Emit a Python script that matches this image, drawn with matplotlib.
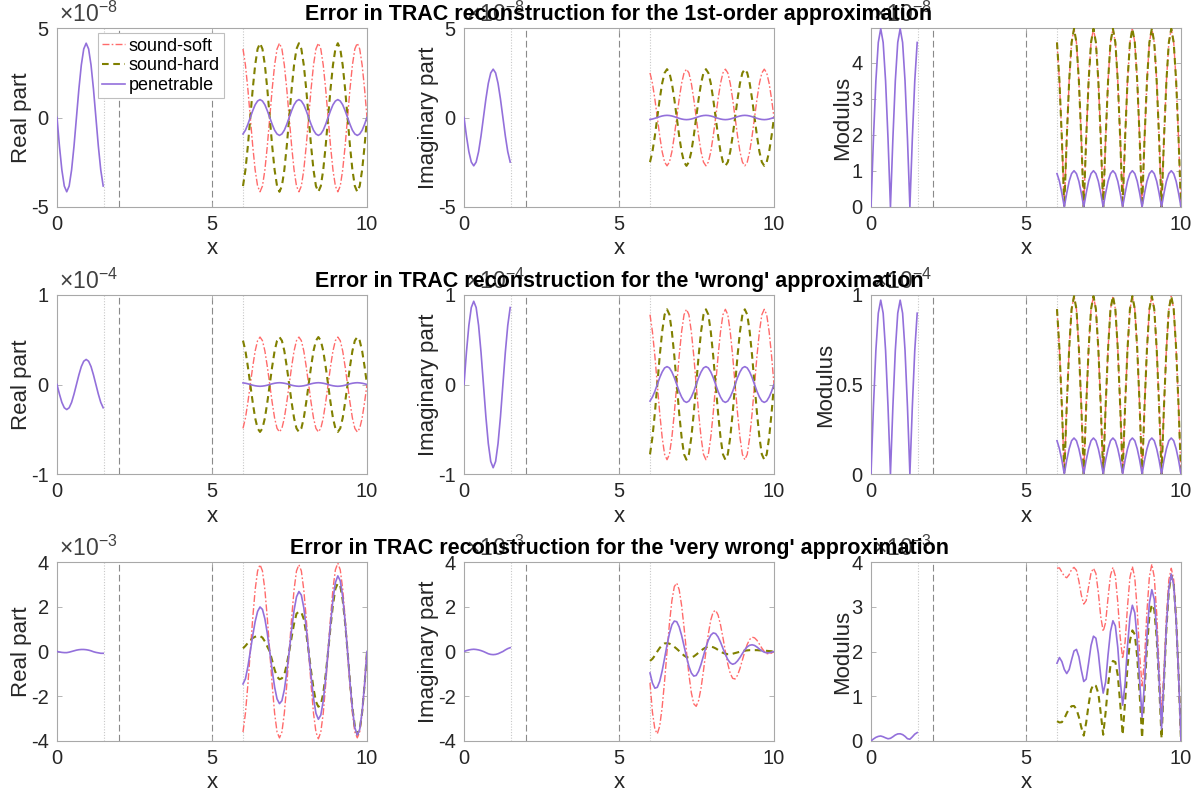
import numpy as np
import matplotlib
matplotlib.use('Agg')
import matplotlib.pyplot as plt
from matplotlib.ticker import FuncFormatter

plt.rcParams['font.family'] = ['Liberation Sans', 'DejaVu Sans']
plt.rcParams['axes.unicode_minus'] = False
plt.rcParams['mathtext.fontset'] = 'custom'
plt.rcParams['mathtext.rm'] = 'Liberation Sans'
plt.rcParams['mathtext.it'] = 'Liberation Sans:italic'

# sample positions: inner piece (0..1.5) and outer piece (6..10)
x_in = np.linspace(0.0, 1.49, 20)
x_out = np.linspace(6.0, 10.0, 52)

titles = ["Error in TRAC reconstruction for the 1st-order approximation",
          "Error in TRAC reconstruction for the 'wrong' approximation",
          "Error in TRAC reconstruction for the 'very wrong' approximation"]
exponents = [-8, -4, -3]
labels = ["sound-soft", "sound-hard", "penetrable"]
ylabels = ["Real part", "Imaginary part", "Modulus"]

# ---- row 1 : 1st-order (x 1e-8) ----
r1_re_pen_in = [0, -1.59, -2.93, -3.83, -4.15, -3.83, -2.93, -1.59, 0, 1.59, 2.93, 3.83, 4.15, 3.83, 2.93, 1.59, 0, -1.59, -2.93, -3.83]
r1_im_pen_in = [0, -1.03, -1.91, -2.49, -2.7, -2.49, -1.91, -1.03, 0, 1.03, 1.91, 2.49, 2.7, 2.49, 1.91, 1.03, 0, -1.03, -1.91, -2.49]
r1_re_soft = [3.83, 2.93, 1.59, 0, -1.59, -2.93, -3.83, -4.15, -3.83, -2.93, -1.59, 0, 1.59, 2.93, 3.83, 4.15, 3.83, 2.93, 1.59, 0,
              -1.59, -2.93, -3.83, -4.15, -3.83, -2.93, -1.59, 0, 1.59, 2.93, 3.83, 4.15, 3.83, 2.93, 1.59, 0,
              -1.59, -2.93, -3.83, -4.15, -3.83, -2.93, -1.59, 0, 1.59, 2.93, 3.83, 4.15, 3.83, 2.93, 1.59, 0]
r1_re_hard = [-3.83, -2.93, -1.59, 0, 1.59, 2.93, 3.83, 4.15, 3.83, 2.93, 1.59, 0, -1.59, -2.93, -3.83, -4.15, -3.83, -2.93, -1.59, 0,
              1.59, 2.93, 3.83, 4.15, 3.83, 2.93, 1.59, 0, -1.59, -2.93, -3.83, -4.15, -3.83, -2.93, -1.59, 0,
              1.59, 2.93, 3.83, 4.15, 3.83, 2.93, 1.59, 0, -1.59, -2.93, -3.83, -4.15, -3.83, -2.93, -1.59, 0]
r1_re_pen = [-0.92, -0.71, -0.38, 0, 0.38, 0.71, 0.92, 1.0, 0.92, 0.71, 0.38, 0, -0.38, -0.71, -0.92, -1.0, -0.92, -0.71, -0.38, 0,
             0.38, 0.71, 0.92, 1.0, 0.92, 0.71, 0.38, 0, -0.38, -0.71, -0.92, -1.0, -0.92, -0.71, -0.38, 0,
             0.38, 0.71, 0.92, 1.0, 0.92, 0.71, 0.38, 0, -0.38, -0.71, -0.92, -1.0, -0.92, -0.71, -0.38, 0]
r1_im_soft = [2.49, 1.91, 1.03, 0, -1.03, -1.91, -2.49, -2.7, -2.49, -1.91, -1.03, 0, 1.03, 1.91, 2.49, 2.7, 2.49, 1.91, 1.03, 0,
              -1.03, -1.91, -2.49, -2.7, -2.49, -1.91, -1.03, 0, 1.03, 1.91, 2.49, 2.7, 2.49, 1.91, 1.03, 0,
              -1.03, -1.91, -2.49, -2.7, -2.49, -1.91, -1.03, 0, 1.03, 1.91, 2.49, 2.7, 2.49, 1.91, 1.03, 0]
r1_im_hard = [-2.49, -1.91, -1.03, 0, 1.03, 1.91, 2.49, 2.7, 2.49, 1.91, 1.03, 0, -1.03, -1.91, -2.49, -2.7, -2.49, -1.91, -1.03, 0,
              1.03, 1.91, 2.49, 2.7, 2.49, 1.91, 1.03, 0, -1.03, -1.91, -2.49, -2.7, -2.49, -1.91, -1.03, 0,
              1.03, 1.91, 2.49, 2.7, 2.49, 1.91, 1.03, 0, -1.03, -1.91, -2.49, -2.7, -2.49, -1.91, -1.03, 0]
r1_im_pen = [-0.11, -0.085, -0.046, 0, 0.046, 0.085, 0.11, 0.12, 0.11, 0.085, 0.046, 0, -0.046, -0.085, -0.11, -0.12, -0.11, -0.085, -0.046, 0,
             0.046, 0.085, 0.11, 0.12, 0.11, 0.085, 0.046, 0, -0.046, -0.085, -0.11, -0.12, -0.11, -0.085, -0.046, 0,
             0.046, 0.085, 0.11, 0.12, 0.11, 0.085, 0.046, 0, -0.046, -0.085, -0.11, -0.12, -0.11, -0.085, -0.046, 0]

# ---- row 2 : 'wrong' (x 1e-4) ----
r2_re_pen_in = [0, -0.107, -0.2, -0.26, -0.28, -0.26, -0.2, -0.107, 0, 0.107, 0.2, 0.26, 0.28, 0.26, 0.2, 0.107, 0, -0.107, -0.2, -0.26]
r2_im_pen_in = [0, 0.36, 0.66, 0.86, 0.93, 0.86, 0.66, 0.36, 0, -0.36, -0.66, -0.86, -0.93, -0.86, -0.66, -0.36, 0, 0.36, 0.66, 0.86]
r2_re_soft = [-0.49, -0.375, -0.2, 0, 0.2, 0.375, 0.49, 0.53, 0.49, 0.375, 0.2, 0, -0.2, -0.375, -0.49, -0.53, -0.49, -0.375, -0.2, 0,
              0.2, 0.375, 0.49, 0.53, 0.49, 0.375, 0.2, 0, -0.2, -0.375, -0.49, -0.53, -0.49, -0.375, -0.2, 0,
              0.2, 0.375, 0.49, 0.53, 0.49, 0.375, 0.2, 0, -0.2, -0.375, -0.49, -0.53, -0.49, -0.375, -0.2, 0]
r2_re_hard = [0.49, 0.375, 0.2, 0, -0.2, -0.375, -0.49, -0.53, -0.49, -0.375, -0.2, 0, 0.2, 0.375, 0.49, 0.53, 0.49, 0.375, 0.2, 0,
              -0.2, -0.375, -0.49, -0.53, -0.49, -0.375, -0.2, 0, 0.2, 0.375, 0.49, 0.53, 0.49, 0.375, 0.2, 0,
              -0.2, -0.375, -0.49, -0.53, -0.49, -0.375, -0.2, 0, 0.2, 0.375, 0.49, 0.53, 0.49, 0.375, 0.2, 0]
r2_re_pen = [0.018, 0.014, 0.008, 0, -0.008, -0.014, -0.018, -0.02, -0.018, -0.014, -0.008, 0, 0.008, 0.014, 0.018, 0.02, 0.018, 0.014, 0.008, 0,
             -0.008, -0.014, -0.018, -0.02, -0.018, -0.014, -0.008, 0, 0.008, 0.014, 0.018, 0.02, 0.018, 0.014, 0.008, 0,
             -0.008, -0.014, -0.018, -0.02, -0.018, -0.014, -0.008, 0, 0.008, 0.014, 0.018, 0.02, 0.018, 0.014, 0.008, 0]
r2_im_soft = [0.78, 0.59, 0.32, 0, -0.32, -0.59, -0.78, -0.84, -0.78, -0.59, -0.32, 0, 0.32, 0.59, 0.78, 0.84, 0.78, 0.59, 0.32, 0,
              -0.32, -0.59, -0.78, -0.84, -0.78, -0.59, -0.32, 0, 0.32, 0.59, 0.78, 0.84, 0.78, 0.59, 0.32, 0,
              -0.32, -0.59, -0.78, -0.84, -0.78, -0.59, -0.32, 0, 0.32, 0.59, 0.78, 0.84, 0.78, 0.59, 0.32, 0]
r2_im_hard = [-0.78, -0.59, -0.32, 0, 0.32, 0.59, 0.78, 0.84, 0.78, 0.59, 0.32, 0, -0.32, -0.59, -0.78, -0.84, -0.78, -0.59, -0.32, 0,
              0.32, 0.59, 0.78, 0.84, 0.78, 0.59, 0.32, 0, -0.32, -0.59, -0.78, -0.84, -0.78, -0.59, -0.32, 0,
              0.32, 0.59, 0.78, 0.84, 0.78, 0.59, 0.32, 0, -0.32, -0.59, -0.78, -0.84, -0.78, -0.59, -0.32, 0]
r2_im_pen = [-0.185, -0.14, -0.077, 0, 0.077, 0.14, 0.185, 0.2, 0.185, 0.14, 0.077, 0, -0.077, -0.14, -0.185, -0.2, -0.185, -0.14, -0.077, 0,
             0.077, 0.14, 0.185, 0.2, 0.185, 0.14, 0.077, 0, -0.077, -0.14, -0.185, -0.2, -0.185, -0.14, -0.077, 0,
             0.077, 0.14, 0.185, 0.2, 0.185, 0.14, 0.077, 0, -0.077, -0.14, -0.185, -0.2, -0.185, -0.14, -0.077, 0]

# ---- row 3 : 'very wrong' (x 1e-3) ----
r3_re_pen_in = [0, -0.02, -0.04, -0.05, -0.05, -0.03, 0.0, 0.03, 0.06, 0.08, 0.09, 0.09, 0.08, 0.06, 0.03, -0.01, -0.04, -0.06, -0.08, -0.08]
r3_im_pen_in = [0, 0.04, 0.07, 0.09, 0.10, 0.09, 0.07, 0.04, 0.0, -0.05, -0.10, -0.13, -0.14, -0.13, -0.10, -0.05, 0.0, 0.07, 0.13, 0.17]
r3_re_soft = [-3.6, -2.76, -1.49, 0, 1.49, 2.76, 3.6, 3.88, 3.6, 2.76, 1.49, 0, -1.49, -2.76, -3.6, -3.86, -3.6, -2.76, -1.49, 0,
              1.49, 2.76, 3.6, 3.88, 3.6, 2.76, 1.49, 0, -1.49, -2.76, -3.6, -3.9, -3.6, -2.76, -1.49, 0,
              1.5, 2.8, 3.65, 3.95, 3.65, 2.8, 1.5, 0, -1.49, -2.76, -3.6, -3.86, -3.6, -2.76, -1.49, 0]
r3_re_hard = [0.14, 0.25, 0.38, 0.50, 0.60, 0.66, 0.69, 0.69, 0.62, 0.45, 0.22, 0.0, -0.41, -0.81, -1.13, -1.24,
              -1.20, -1.03, -0.58, 0, 0.64, 1.24, 1.69, 1.78, 1.75, 1.45, 0.81, 0, -0.87, -1.66, -2.24, -2.47,
              -2.38, -1.87, -1.04, 0, 1.10, 2.09, 2.80, 3.05, 2.94, 2.30, 1.27, 0, -1.33, -2.51, -3.35, -3.70,
              -3.49, -2.72, -1.50, 0]
r3_re_pen = [-1.45, -1.22, -0.68, 0, 0.71, 1.34, 1.79, 1.99, 1.88, 1.46, 0.81, 0, -0.84, -1.59, -2.12, -2.33,
             -2.20, -1.71, -0.94, 0, 0.98, 1.84, 2.44, 2.68, 2.52, 1.96, 1.08, 0, -1.11, -2.08, -2.76, -3.03,
             -2.84, -2.21, -1.21, 0, 1.24, 2.33, 3.08, 3.38, 3.16, 2.45, 1.34, 0, -1.38, -2.57, -3.40, -3.73,
             -3.48, -2.69, -1.48, 0]
r3_im_soft = [-1.40, -2.71, -3.47, -3.68, -3.33, -2.49, -1.32, 0, 1.26, 2.27, 2.90, 3.06, 2.76, 2.06, 1.08, 0,
              -1.03, -1.84, -2.34, -2.45, -2.19, -1.63, -0.85, 0, 0.79, 1.41, 1.77, 1.84, 1.63, 1.19, 0.62, 0,
              -0.56, -0.98, -1.20, -1.23, -1.06, -0.76, -0.38, 0, 0.32, 0.54, 0.64, 0.61, 0.50, 0.33, 0.15, 0,
              -0.09, -0.11, -0.07, 0]
r3_im_hard = [-0.42, -0.33, -0.18, 0.0, 0.16, 0.29, 0.36, 0.37, 0.35, 0.29, 0.21, 0.12, 0.02, -0.08, -0.18, -0.25,
              -0.28, -0.27, -0.22, -0.14, -0.05, 0.04, 0.12, 0.18, 0.22, 0.22, 0.19, 0.14, 0.07, 0.0, -0.06, -0.10,
              -0.12, -0.12, -0.10, -0.07, -0.04, -0.01, 0.02, 0.04, 0.05, 0.06, 0.06, 0.06, 0.06, 0.05, 0.05, 0.04,
              0.03, 0.02, 0.01, 0.0]
r3_im_pen = [-0.96, -1.41, -1.64, -1.60, -1.33, -0.87, -0.30, 0.29, 0.81, 1.19, 1.36, 1.33, 1.10, 0.72, 0.25, -0.24,
             -0.66, -0.96, -1.10, -1.07, -0.88, -0.57, -0.19, 0.19, 0.51, 0.73, 0.83, 0.80, 0.65, 0.42, 0.14, -0.13,
             -0.36, -0.51, -0.57, -0.53, -0.42, -0.27, -0.09, 0.08, 0.21, 0.28, 0.30, 0.27, 0.20, 0.11, 0.03, -0.03,
             -0.06, -0.06, -0.03, 0]

rows = [
    dict(re_in=r1_re_pen_in, im_in=r1_im_pen_in,
         re=[r1_re_soft, r1_re_hard, r1_re_pen], im=[r1_im_soft, r1_im_hard, r1_im_pen],
         lim=(-5, 5), ticks=[-5, 0, 5], mlim=(0, 4.97), mticks=[0, 1, 2, 3, 4]),
    dict(re_in=r2_re_pen_in, im_in=r2_im_pen_in,
         re=[r2_re_soft, r2_re_hard, r2_re_pen], im=[r2_im_soft, r2_im_hard, r2_im_pen],
         lim=(-1, 1), ticks=[-1, 0, 1], mlim=(0, 1), mticks=[0, 0.5, 1]),
    dict(re_in=r3_re_pen_in, im_in=r3_im_pen_in,
         re=[r3_re_soft, r3_re_hard, r3_re_pen], im=[r3_im_soft, r3_im_hard, r3_im_pen],
         lim=(-4, 4), ticks=[-4, -2, 0, 2, 4], mlim=(0, 4), mticks=[0, 1, 2, 3, 4]),
]

colors = ['#ff6b6b', '#808000', '#9370db']
styles = [dict(lw=1.0, dashes=(5, 1.6, 1.2, 1.6)),
          dict(lw=1.5, dashes=(3.2, 2.2)),
          dict(lw=1.2, linestyle='-')]

gray_box = '#a8a8a8'
txt_col = '#262626'

fig = plt.figure(figsize=(12.03, 8.0), dpi=100)
lefts = [57, 464, 871]
tops = [28, 295, 562]
W, H = 310, 179

for r, row in enumerate(rows):
    for c in range(3):
        ax = fig.add_axes([lefts[c] / 1203, 1 - (tops[r] + H) / 800, W / 1203, H / 800])
        if c == 1:
            # title of the middle panel is drawn over the neighbours' exponent labels
            ax.set_zorder(2)
        for xv, st, col in [(1.5, ':', '#c8c8c8'), (6, ':', '#c8c8c8'), (2, '--', '#8a8a8a'), (5, '--', '#8a8a8a')]:
            ax.axvline(xv, color=col, lw=0.8, linestyle=st, zorder=1,
                       dashes=(6, 3) if st == '--' else (1, 1.5))
        if c == 0:
            inner = np.array(row['re_in'])
            outer = [np.array(v) for v in row['re']]
        elif c == 1:
            inner = np.array(row['im_in'])
            outer = [np.array(v) for v in row['im']]
        else:
            inner = np.hypot(row['re_in'], row['im_in'])
            outer = [np.hypot(a, b) for a, b in zip(row['re'], row['im'])]
        handles = []
        for k in range(3):
            h, = ax.plot(x_out, outer[k], color=colors[k], label=labels[k], zorder=2 + k, **styles[k])
            handles.append(h)
        ax.plot(x_in, inner, color=colors[2], zorder=4, **styles[2])

        ax.set_xlim(0, 10)
        ax.set_xticks([0, 5, 10])
        if c < 2:
            ax.set_ylim(*row['lim'])
            ax.set_yticks(row['ticks'])
        else:
            ax.set_ylim(*row['mlim'])
            ax.set_yticks(row['mticks'])
        ax.yaxis.set_major_formatter(FuncFormatter(lambda v, p: '%g' % v))
        ax.tick_params(direction='in', length=3.5, width=0.6, color=gray_box,
                       labelsize=14.5, labelcolor=txt_col, top=True, right=True, pad=6)
        for sp in ax.spines.values():
            sp.set_color(gray_box)
            sp.set_linewidth(0.8)
        ax.set_xlabel('x', fontsize=16, color=txt_col, labelpad=3)
        ax.set_ylabel(ylabels[c], fontsize=16, color=txt_col, labelpad=-1)
        ax.text(0.005, 1.008, r'$\times10^{%d}$' % exponents[r], transform=ax.transAxes,
                fontsize=16.5, color='#404040', ha='left', va='bottom')
        if c == 1:
            ax.set_title(titles[r], fontsize=15.5, fontweight='bold', pad=5.5, color='black')
        if r == 0 and c == 0:
            leg = ax.legend(handles=handles, loc='upper left', bbox_to_anchor=(0.132, 0.972),
                            borderaxespad=0, fontsize=13, handlelength=1.25, handletextpad=0.2,
                            labelspacing=0.15, borderpad=0.25, fancybox=False, framealpha=1)
            leg.get_frame().set_edgecolor('#bfbfbf')
            leg.get_frame().set_linewidth(0.8)

fig.savefig('out.png', dpi=100)
